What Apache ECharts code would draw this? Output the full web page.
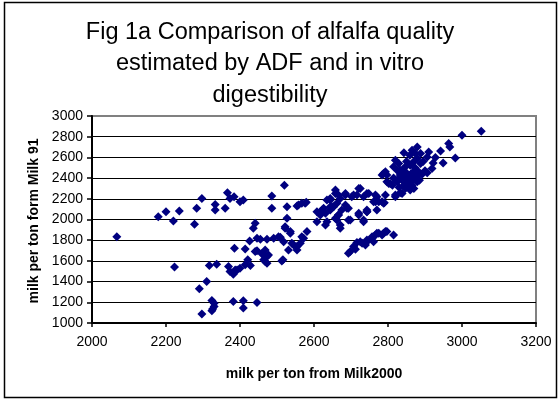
<!DOCTYPE html>
<html>
<head>
<meta charset="utf-8">
<script src="https://cdn.jsdelivr.net/npm/echarts@6/dist/echarts.min.js"></script>
<style>
html,body{margin:0;padding:0;background:#fff;}
#c{width:560px;height:402px;}
</style>
</head>
<body>
<div id="c"></div>
<script>
var titleLines = ["Fig 1a Comparison of alfalfa quality", "estimated by ADF and in vitro", "digestibility"];
var xAxisName = "milk per ton from Milk2000";
var yAxisName = "milk per ton form Milk 91";
var xTicks = [2000, 2200, 2400, 2600, 2800, 3000, 3200];
var yTicks = [1000, 1200, 1400, 1600, 1800, 2000, 2200, 2400, 2600, 2800, 3000];

// milk per ton from Milk2000
var milk2000 = [
 2067,2179,2200,2220,2236,2223,2277,2283,2297,2333,2333,2360,2366,2373,2384,2400,2409,2486,
 2441,2436,2426,2446,2455,2473,2491,2504,2385,2414,2446,2459,2473,2468,2421,2428,2400,2392,
 2382,2369,2337,2317,2310,2290,2324,2330,2324,2297,2382,2409,2409,2446,2330,2326,
 2486,2527,2558,2576,2527,2509,2522,2536,2518,2540,2554,2563,2531,2581,2567,2441,2468,2477,
 2473,2464,2513,2414,2387,2373,2520,2554,2567,2579,2545,2572,2554,2522,2536,2516,
 2608,2617,2626,2644,2635,2608,2631,2653,2666,2662,2671,2685,2693,2693,2721,2734,2743,2761,2784,
 2617,2631,2635,2649,2644,2658,2662,2671,2675,2689,2685,2658,2666,2671,2698,2721,2734,2743,
 2702,2716,2725,2748,2770,2766,2788,2793,2820,2838,
 2644,2658,2666,2685,2707,2721,2734,2743,2766,2775,2743,2770,2644,2622,
 2693,2707,2716,2730,2743,2757,2766,2775,2788,2797,2712,2698,2725,2743,2757,2770,2784,2793,2815,2761,2739,
 3052,3000,2967,2964,2942,2982,2949,2928,2910,2906,2922,2919,2906,2892,2879,2865,2874,2888,2859,2843,
 2888,2879,2820,2829,2815,2833,2847,2860,2833,2847,2860,2869,2851,2838,2843,2865,2879,2825,2793,2784,
 2797,2806,2797,2860,2847,2833,2820,2788,2802,2829,2842,2790,
 2850,2855,2870,2840,2858,2875,2885,2830,2870,2880,2900,2895,2870,2850,2840,2815,
 2845,2862,2852,2868,2838,2856,2880,2812,2826,2873
];
// milk per ton form Milk 91
var milk91 = [
 1834,2027,2075,1986,2082,1540,1954,2108,2204,2146,2091,2108,2258,2204,2220,2171,2188,2226,
 1963,1915,1793,1819,1809,1809,1819,1834,1723,1716,1699,1668,1642,1593,1610,1555,1530,1513,
 1472,1545,1568,1555,1401,1330,1218,1160,1118,1087,1208,1215,1145,1199,1190,1135,
 2108,2124,2140,2156,2012,1829,1915,1867,1786,1771,1738,1771,1706,1883,1834,1690,1706,1658,
 1578,1610,1600,1562,1513,1497,2332,2130,2156,2166,1754,1819,1706,1931,1883,1610,
 2075,2043,2108,2124,2188,1979,1947,2124,2043,1995,1947,2140,2108,1995,2043,1979,2075,2171,2171,
 2075,2060,1979,2124,2188,2252,2156,2204,2092,2108,2236,2012,2043,1915,1995,2060,1995,2075,
 2220,2236,2300,2252,2220,2171,2156,2236,2236,2252,
 2204,2284,2236,2252,2236,2300,2220,2252,2236,2171,2091,2091,2091,2091,
 1674,1738,1777,1771,1786,1819,1851,1867,1867,1883,1713,1690,1786,1802,1834,1867,1851,1883,1851,1786,1754,
 2853,2814,2701,2734,2663,2595,2547,2599,2653,2605,2547,2493,2451,2438,2701,2670,2638,2638,2621,2644,
 2541,2590,2573,2541,2509,2477,2509,2525,2429,2412,2412,2381,2364,2381,2332,2332,2364,2364,2461,2429,
 2429,2349,2364,2284,2300,2258,2220,2445,2349,2397,2445,2162,
 2450,2395,2420,2400,2350,2400,2380,2310,2300,2470,2470,2560,2560,2560,2480,2400,
 2370,2440,2345,2460,2420,2320,2430,2330,2470,2500
];

var points = milk2000.map(function (x, i) { return [x, milk91[i]]; });

var FONT = "'Liberation Sans', Arial, sans-serif";
var chart = echarts.init(document.getElementById('c'), null, {renderer: 'canvas'});
chart.setOption({
  animation: false,
  backgroundColor: '#ffffff',
  grid: {
    left: 92, right: 24, top: 116, bottom: 79,
    show: true, borderColor: '#808080', borderWidth: 2, backgroundColor: 'transparent'
  },
  xAxis: {
    type: 'value', min: xTicks[0], max: xTicks[xTicks.length - 1], interval: 200,
    axisLine: {show: true, onZero: false, lineStyle: {color: '#000', width: 2}},
    axisTick: {show: true, inside: false, length: 4, lineStyle: {color: '#000', width: 1.5}},
    axisLabel: {margin: 12, fontSize: 14, fontFamily: FONT, color: '#000', formatter: function (v) { return String(v); }},
    splitLine: {show: false}
  },
  yAxis: {
    type: 'value', min: yTicks[0], max: yTicks[yTicks.length - 1], interval: 200,
    axisLine: {show: true, onZero: false, lineStyle: {color: '#000', width: 2}},
    axisTick: {show: true, inside: false, length: 5, lineStyle: {color: '#000', width: 1.5}},
    axisLabel: {margin: 9, fontSize: 14, fontFamily: FONT, color: '#000', formatter: function (v) { return String(v); }},
    splitLine: {show: true, showMinLine: false, showMaxLine: false, lineStyle: {color: '#000', width: 1}}
  },
  series: [{
    type: 'scatter',
    data: points,
    symbol: 'diamond',
    symbolSize: [9, 9],
    itemStyle: {color: '#000080', opacity: 1},
    z: 5
  }],
  graphic: [
    {type: 'rect', shape: {x: 4.5, y: 2.5, width: 552, height: 395}, style: {fill: 'none', stroke: '#000', lineWidth: 1.5}, z: 100, silent: true},
    {type: 'text', x: 270, y: 33, style: {text: titleLines[0], font: '23.5px ' + FONT, fill: '#000', textAlign: 'center', textVerticalAlign: 'middle'}},
    {type: 'text', x: 270, y: 64, style: {text: titleLines[1], font: '23.5px ' + FONT, fill: '#000', textAlign: 'center', textVerticalAlign: 'middle'}},
    {type: 'text', x: 270, y: 96, style: {text: titleLines[2], font: '23.5px ' + FONT, fill: '#000', textAlign: 'center', textVerticalAlign: 'middle'}},
    {type: 'text', x: 314, y: 374, style: {text: xAxisName, font: 'bold 14px ' + FONT, fill: '#000', textAlign: 'center', textVerticalAlign: 'middle'}},
    {type: 'text', x: 34, y: 221, rotation: Math.PI / 2, style: {text: yAxisName, font: 'bold 14px ' + FONT, fill: '#000', textAlign: 'center', textVerticalAlign: 'middle'}}
  ]
});
</script>
</body>
</html>
